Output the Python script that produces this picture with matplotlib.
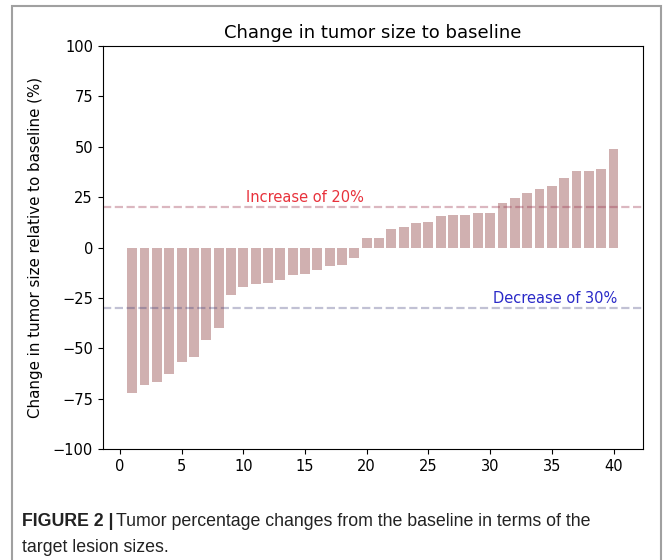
import matplotlib.pyplot as plt
from matplotlib.patches import Rectangle
import numpy as np

# change in tumour size per patient (%), sorted
patients = np.arange(1, 41)
change = [-71.9, -67.9, -66.6, -62.5, -56.7, -54.2, -45.7, -40.0, -23.7, -19.4,
          -17.8, -17.3, -16.1, -13.6, -13.0, -11.0, -9.0, -8.5, -4.9, 4.8,
          4.9, 9.2, 10.3, 12.0, 12.5, 15.6, 16.1, 16.1, 17.0, 17.3,
          22.2, 24.6, 27.0, 29.0, 30.7, 34.5, 37.8, 38.1, 39.1, 48.7]
increaseLevel = 20
decreaseLevel = -30

fig = plt.figure(figsize=(6.64, 5.6), dpi=100)
ax = fig.add_axes([0.1547, 0.1977, 0.8137, 0.7202])

ax.bar(patients, change, width=0.8, color='rosybrown', alpha=0.7)

## Threshold lines
ax.axhline(increaseLevel, color=(0.6, 0.2, 0.3), alpha=0.35, linestyle='--', lw=1.6)
ax.axhline(decreaseLevel, color=(0.2, 0.2, 0.45), alpha=0.3, linestyle='--', lw=1.6)
ax.text(15, increaseLevel + 1, 'Increase of 20%', color='#e8323c', fontsize=10.5,
        ha='center', va='bottom')
ax.text(35.3, decreaseLevel + 1, 'Decrease of 30%', color='#2a2ac8', fontsize=10.5,
        ha='center', va='bottom')

ax.set_ylim(-100, 100)
ax.set_yticks(np.arange(-100, 101, 25))
ax.set_xticks(np.arange(0, 41, 5))
ax.tick_params(labelsize=10.5)
ax.set_title('Change in tumor size to baseline', fontsize=13)
ax.set_ylabel('Change in tumor size relative to baseline (%)', fontsize=10.8)
ax.yaxis.set_label_coords(-0.11, 0.5)

## Page frame and caption
fig.patches.append(Rectangle((12/664, -0.1), 649/664, 1.1 - 6/560, transform=fig.transFigure,
                             fill=False, edgecolor='#a0a0a0', lw=1.5))
capFont = ['Liberation Sans', 'DejaVu Sans']
capY = 1 - 521/560
head = fig.text(22/664, capY, 'FIGURE 2 |', fontsize=12.8, fontweight='bold',
                family=capFont, va='center', color='#222222')
renderer = fig.canvas.get_renderer()
headBox = head.get_window_extent(renderer)
fig.text((headBox.x1 + 3)/664, capY, 'Tumor percentage changes from the baseline in terms of the',
         fontsize=12.8, family=capFont, va='center', color='#222222')
fig.text(22/664, 1 - 547/560, 'target lesion sizes.', fontsize=12.8, family=capFont,
         va='center', color='#222222')

fig.savefig('out.png', dpi=100)
